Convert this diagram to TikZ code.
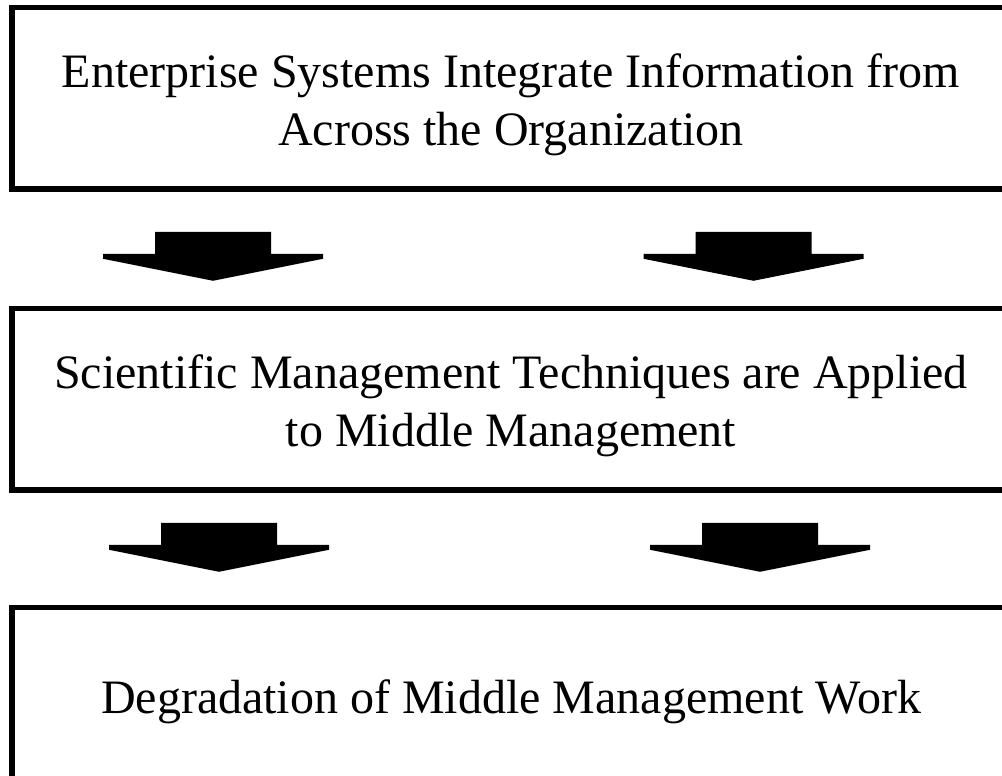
\documentclass[tikz,border=0pt]{standalone}
\usepackage{fontspec}
\setmainfont{Liberation Serif}
\usetikzlibrary{positioning,calc}
\tikzstyle{stage} = [draw,line width=2.75pt,minimum width=499.25pt,minimum height=90.75pt,align=center,font=\fontsize{24}{29}\selectfont]
\tikzstyle{blockarrow} = [fill=black]
\newcommand{\downblock}[1]{\fill[blockarrow] (#1) ++(-58,0) -- ++(116,0) -- ++(0,22) -- ++(52,0) -- ++(0,5) -- ++(-110,22) -- ++(-110,-22) -- ++(0,-5) -- ++(52,0) -- cycle;}

\begin{document}
\begin{tikzpicture}[x=0.5pt,y=-0.5pt,node distance=57pt]
  \clip (0,0) rectangle (1002,776);
  \node[stage] (ent) at (511,98.25) {\rule{0pt}{23pt}Enterprise Systems Integrate Information from\\Across the Organization};
  \node[stage,below=of ent] (sci) {\rule{0pt}{23pt}Scientific Management Techniques are Applied\\to Middle Management};
  \node[stage,minimum height=90pt,below=56pt of sci] (deg) {\rule{0pt}{21pt}Degradation of Middle Management Work};

  % Arrows between stages
  \coordinate (a1l) at ($(ent.south)+(-298,40)$);
  \coordinate (a1r) at ($(ent.south)+(242.5,40)$);
  \coordinate (a2l) at ($(sci.south)+(-292,30)$);
  \coordinate (a2r) at ($(sci.south)+(249,30)$);
  \foreach \a in {a1l,a1r,a2l,a2r} {\downblock{\a}}
\end{tikzpicture}
\end{document}
